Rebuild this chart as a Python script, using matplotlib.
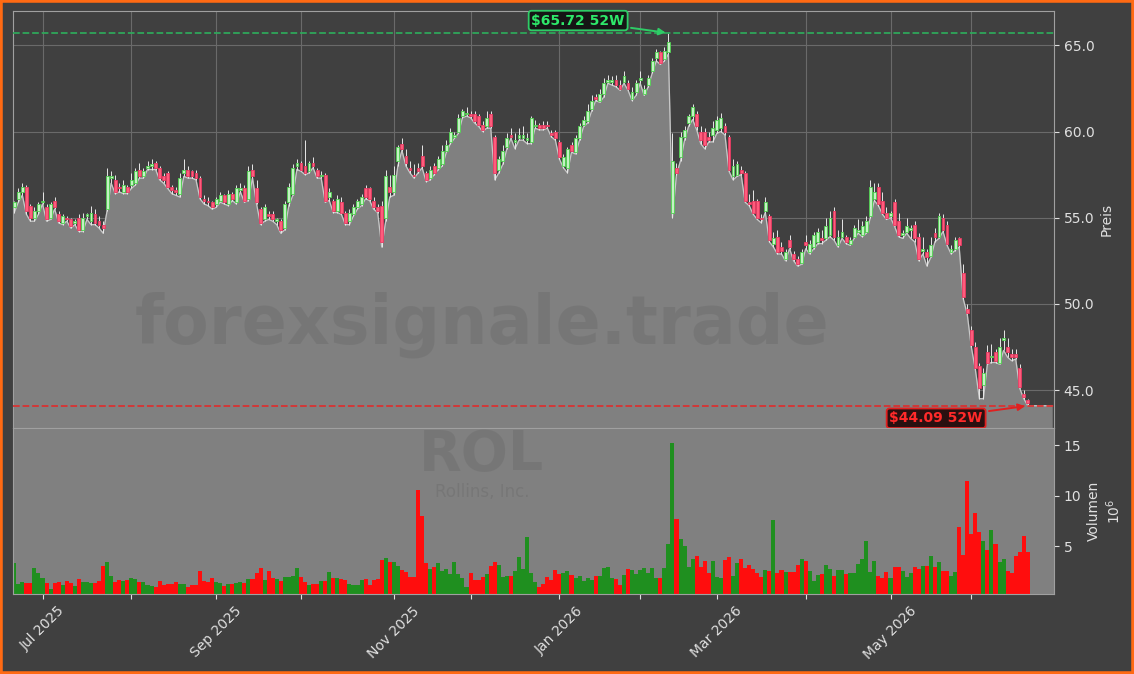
import numpy as np
import pandas as pd
import matplotlib.pyplot as plt
from matplotlib.patches import Rectangle

# daily candles, Rollins Inc. (ROL), values in USD
opens = [
    55.6, 56.1, 56.5, 56.8, 55.7, 55.0, 55.4, 55.9, 55.6, 55.0,
    56.0, 55.2, 54.7, 55.0, 54.9, 54.7, 55.0, 54.3, 55.1, 54.8,
    55.2, 54.8, 54.6, 55.5, 57.3, 57.2, 56.8, 56.5, 56.8, 56.9,
    57.0, 57.8, 57.4, 57.9, 58.0, 58.2, 57.9, 57.4, 57.6, 56.8,
    56.6, 56.4, 57.6, 57.8, 57.7, 57.6, 57.3, 56.1, 56.0, 55.9,
    55.8, 56.0, 56.3, 55.8, 56.4, 55.9, 56.6, 56.7, 56.1, 57.8,
    56.7, 55.5, 54.9, 55.2, 55.2, 54.8, 54.8, 54.4, 55.9, 56.4,
    58.0, 58.2, 58.0, 57.7, 58.2, 57.8, 57.4, 57.5, 56.2, 56.0,
    55.4, 55.9, 55.3, 54.8, 55.2, 55.6, 55.8, 56.7, 56.7, 56.0,
    55.6, 55.7, 55.0, 56.8, 56.5, 58.3, 59.3, 58.6, 57.9, 57.5,
    57.9, 58.6, 57.6, 57.3, 58.0, 57.9, 58.1, 58.9, 59.4, 59.7,
    60.0, 60.9, 61.0, 61.0, 61.0, 60.9, 60.4, 60.3, 61.0, 59.7,
    57.8, 58.3, 59.1, 59.8, 59.4, 59.6, 59.6, 59.5, 59.4, 60.3,
    60.4, 60.4, 60.4, 59.9, 60.0, 59.4, 58.0, 57.9, 59.2, 58.8,
    59.6, 60.4, 60.6, 61.3, 62.0, 61.8, 62.2, 62.9, 62.9, 63.0,
    62.7, 62.9, 62.8, 61.9, 62.3, 63.0, 62.2, 62.7, 63.5, 64.3,
    64.6, 64.2, 64.6, 55.3, 57.9, 58.5, 59.7, 60.5, 60.9, 61.0,
    60.0, 60.0, 59.7, 59.8, 60.1, 60.2, 60.3, 59.7, 57.4, 57.5,
    57.8, 57.6, 55.9, 56.0, 56.0, 55.0, 55.4, 55.1, 53.5, 53.9,
    53.3, 52.6, 53.7, 52.9, 52.6, 52.4, 53.6, 53.0, 53.3, 53.6,
    53.8, 53.8, 54.0, 55.4, 53.4, 53.9, 53.9, 53.5, 53.9, 54.2,
    54.0, 54.2, 55.1, 56.1, 56.8, 56.0, 55.3, 55.1, 55.9, 54.8,
    54.0, 54.2, 54.3, 54.6, 53.9, 53.1, 53.0, 52.8, 54.1, 53.9,
    55.0, 54.6, 53.0, 53.2, 53.8, 51.8, 49.7, 48.5, 47.5, 46.4,
    45.3, 47.2, 46.9, 47.2, 46.6, 47.9, 47.5, 47.1, 47.1, 46.3,
    44.8, 44.4,
]
highs = [
    56.0, 56.7, 57.0, 56.9, 55.8, 55.6, 55.9, 56.5, 55.8, 55.9,
    56.2, 55.4, 55.2, 55.1, 55.0, 54.9, 55.2, 55.3, 55.3, 55.7,
    55.5, 55.1, 54.8, 57.9, 57.7, 57.5, 57.0, 57.2, 56.9, 57.6,
    57.9, 58.2, 57.9, 58.3, 58.4, 58.3, 58.0, 57.6, 57.7, 56.9,
    56.8, 57.6, 58.4, 58.0, 57.8, 57.8, 57.4, 56.3, 56.2, 56.0,
    56.2, 56.5, 56.4, 56.6, 56.5, 56.9, 57.0, 56.9, 58.0, 58.1,
    57.2, 55.6, 55.8, 55.4, 55.4, 55.0, 54.9, 56.0, 57.0, 58.1,
    58.4, 58.3, 59.5, 58.3, 58.5, 57.9, 57.7, 57.6, 56.7, 56.1,
    56.3, 56.2, 55.4, 55.5, 55.8, 56.1, 56.4, 56.9, 56.8, 56.2,
    55.8, 56.0, 57.8, 57.5, 58.0, 59.2, 59.6, 59.0, 58.3, 58.1,
    58.2, 59.2, 57.7, 58.0, 58.2, 58.6, 59.2, 59.5, 60.2, 60.0,
    61.0, 61.3, 61.4, 61.2, 61.2, 61.0, 60.6, 61.2, 61.2, 59.8,
    58.6, 59.2, 59.9, 60.2, 59.9, 60.2, 60.3, 59.9, 60.9, 60.7,
    60.5, 60.6, 60.6, 60.1, 60.1, 59.5, 58.7, 59.1, 59.4, 59.8,
    60.5, 60.9, 61.6, 62.1, 62.2, 62.5, 63.1, 63.3, 63.2, 63.3,
    63.0, 63.5, 63.0, 62.6, 63.0, 63.5, 62.7, 63.3, 64.3, 64.8,
    64.7, 64.9, 65.72, 59.9, 58.2, 60.0, 60.3, 61.0, 61.6, 61.2,
    60.3, 60.2, 60.0, 60.6, 60.9, 61.1, 60.5, 59.8, 58.4, 58.3,
    58.0, 57.7, 56.4, 56.6, 56.1, 55.2, 56.2, 55.2, 54.2, 54.3,
    53.6, 53.2, 54.0, 53.1, 52.8, 53.2, 54.0, 53.7, 54.2, 54.4,
    54.3, 55.0, 55.4, 55.6, 54.3, 54.9, 54.0, 53.9, 54.6, 54.9,
    54.8, 55.1, 57.2, 57.0, 57.0, 56.5, 55.6, 55.4, 56.1, 55.3,
    54.3, 55.0, 54.6, 54.8, 54.1, 53.9, 53.2, 53.9, 54.4, 55.3,
    55.2, 54.8, 53.4, 53.9, 53.9, 52.3, 50.0, 48.7, 47.8, 46.6,
    46.3, 47.6, 47.7, 47.4, 48.0, 48.5, 48.0, 47.4, 47.4, 46.5,
    45.0, 44.5,
]
lows = [
    55.3, 55.9, 56.3, 55.2, 54.8, 54.8, 55.2, 55.8, 54.8, 54.9,
    55.5, 54.7, 54.6, 54.8, 54.4, 54.6, 54.2, 54.2, 54.9, 54.6,
    54.6, 54.4, 54.1, 55.4, 57.0, 56.4, 56.5, 56.4, 56.4, 56.7,
    56.9, 57.3, 57.3, 57.8, 57.8, 57.8, 57.2, 57.0, 56.7, 56.4,
    56.3, 56.2, 57.4, 57.3, 57.3, 57.2, 56.1, 55.8, 55.7, 55.5,
    55.6, 55.9, 55.8, 55.7, 56.0, 55.8, 56.5, 55.9, 56.0, 57.3,
    55.8, 54.6, 54.8, 54.9, 54.8, 54.6, 54.1, 54.3, 55.7, 56.3,
    57.8, 57.7, 57.5, 57.6, 57.9, 57.3, 57.3, 55.9, 56.0, 55.3,
    55.3, 55.2, 54.6, 54.6, 55.1, 55.5, 55.7, 56.1, 56.0, 55.5,
    55.3, 53.3, 54.8, 56.2, 56.3, 58.0, 58.9, 58.0, 57.6, 57.3,
    57.6, 57.9, 57.1, 57.2, 57.5, 57.8, 58.0, 58.8, 59.3, 59.6,
    59.9, 60.8, 60.9, 60.8, 60.5, 60.3, 60.0, 60.2, 60.2, 57.2,
    57.6, 58.1, 59.0, 59.6, 59.0, 59.5, 59.5, 59.3, 59.3, 60.2,
    60.1, 60.1, 60.2, 59.7, 59.5, 58.4, 57.9, 57.6, 58.8, 58.7,
    59.5, 60.3, 60.5, 61.2, 61.8, 61.7, 62.0, 62.8, 62.7, 62.6,
    62.4, 62.8, 62.4, 61.8, 62.1, 62.8, 62.1, 62.6, 63.4, 64.1,
    63.9, 64.1, 64.5, 55.0, 57.5, 58.3, 59.5, 60.3, 60.7, 60.1,
    59.3, 59.0, 59.4, 59.4, 59.9, 60.0, 59.8, 57.7, 57.2, 57.4,
    57.5, 55.9, 55.7, 55.2, 54.9, 54.7, 55.3, 53.6, 53.3, 52.9,
    52.9, 52.5, 53.2, 52.5, 52.2, 52.3, 53.2, 52.9, 53.2, 53.5,
    53.5, 53.7, 53.9, 53.7, 53.3, 53.8, 53.5, 53.4, 53.8, 54.1,
    53.9, 54.1, 55.0, 56.0, 55.7, 55.2, 54.9, 55.0, 54.5, 53.9,
    53.8, 54.1, 53.8, 53.6, 52.5, 52.9, 52.2, 52.7, 53.6, 53.8,
    54.2, 53.4, 52.9, 53.1, 53.3, 50.3, 49.4, 47.5, 46.2, 44.5,
    44.5, 46.5, 46.6, 46.6, 46.5, 47.3, 46.9, 46.7, 46.8, 45.1,
    44.5, 44.09,
]
closes = [
    55.9, 56.5, 56.8, 55.4, 55.0, 55.4, 55.8, 56.0, 54.9, 55.8,
    55.6, 54.8, 55.1, 54.9, 54.5, 54.8, 54.3, 55.0, 55.2, 55.3,
    54.7, 54.6, 54.4, 57.4, 57.4, 56.5, 56.7, 56.9, 56.5, 57.2,
    57.7, 57.4, 57.7, 58.0, 58.1, 57.9, 57.3, 57.2, 56.8, 56.6,
    56.5, 57.3, 57.8, 57.4, 57.4, 57.3, 56.2, 56.0, 55.9, 55.6,
    56.1, 56.3, 55.9, 56.4, 56.1, 56.7, 56.7, 56.0, 57.7, 57.4,
    55.9, 54.7, 55.6, 55.1, 54.9, 54.9, 54.3, 55.8, 56.8, 57.9,
    58.2, 57.8, 57.6, 58.2, 58.0, 57.4, 57.5, 56.0, 56.5, 55.4,
    56.1, 55.3, 54.7, 55.3, 55.6, 56.0, 56.2, 56.2, 56.1, 55.6,
    55.4, 53.6, 57.4, 56.5, 57.5, 59.1, 59.0, 58.2, 57.8, 57.4,
    57.7, 58.0, 57.2, 57.8, 57.6, 58.4, 58.9, 59.2, 60.0, 59.8,
    60.8, 61.2, 61.1, 60.9, 60.6, 60.4, 60.1, 60.8, 60.3, 57.6,
    58.4, 58.9, 59.6, 59.7, 59.5, 59.8, 59.8, 59.6, 60.8, 60.4,
    60.2, 60.2, 60.3, 59.8, 59.6, 58.5, 58.5, 59.0, 58.9, 59.6,
    60.3, 60.7, 61.2, 61.8, 61.9, 62.2, 62.8, 63.0, 63.0, 62.7,
    62.5, 63.2, 62.5, 62.3, 62.8, 63.1, 62.5, 63.1, 64.1, 64.6,
    64.0, 64.7, 65.2, 58.3, 57.6, 59.7, 60.1, 60.9, 61.4, 60.3,
    59.5, 59.2, 59.5, 60.2, 60.7, 60.8, 60.0, 57.8, 58.0, 58.1,
    57.6, 56.0, 55.8, 55.3, 55.0, 54.9, 55.9, 53.7, 53.8, 53.0,
    53.1, 53.0, 53.3, 52.6, 52.3, 53.0, 53.4, 53.5, 54.0, 54.2,
    53.7, 54.5, 55.0, 53.9, 53.9, 54.2, 53.6, 53.7, 54.4, 54.3,
    54.5, 54.8, 56.8, 56.5, 55.8, 55.3, 55.0, 55.3, 54.6, 54.0,
    54.1, 54.5, 54.4, 53.8, 52.6, 53.2, 52.7, 53.4, 53.9, 55.1,
    54.3, 53.5, 53.2, 53.7, 53.4, 50.4, 49.5, 47.6, 46.3, 45.1,
    46.0, 46.6, 47.0, 46.7, 47.5, 48.0, 47.2, 46.9, 46.9, 45.2,
    44.6, 44.25,
]
# volume in millions of shares
volumes = [
    3.4, 1.3, 1.5, 1.4, 1.4, 2.9, 2.4, 1.9, 1.4, 0.75,
    1.4, 1.5, 1.2, 1.6, 1.4, 1.1, 1.8, 1.5, 1.5, 1.4,
    1.4, 1.6, 3.1, 3.5, 2.1, 1.5, 1.7, 1.6, 1.7, 1.9,
    1.8, 1.5, 1.5, 1.2, 1.1, 1.0, 1.6, 1.2, 1.3, 1.3,
    1.5, 1.3, 1.3, 1.0, 1.2, 1.2, 2.6, 1.6, 1.5, 1.9,
    1.5, 1.4, 1.1, 1.3, 1.3, 1.4, 1.5, 1.4, 1.8, 1.8,
    2.4, 2.9, 1.7, 2.6, 1.9, 1.8, 1.6, 2.0, 2.0, 2.1,
    2.9, 2.0, 1.5, 1.2, 1.3, 1.3, 1.6, 1.6, 2.5, 1.9,
    1.9, 1.8, 1.7, 1.3, 1.2, 1.2, 1.7, 1.8, 1.2, 1.7,
    1.8, 3.7, 3.9, 3.5, 3.5, 3.1, 2.7, 2.5, 2.0, 2.0,
    10.6, 8.0, 3.4, 2.8, 3.0, 3.4, 2.6, 2.8, 2.3, 3.5,
    2.3, 1.9, 1.0, 2.4, 1.7, 1.7, 2.0, 2.3, 3.1, 3.5,
    3.2, 2.0, 2.1, 2.1, 2.6, 4.0, 2.8, 5.9, 2.4, 1.5,
    1.0, 1.3, 2.0, 1.7, 2.7, 2.3, 2.4, 2.6, 2.2, 1.9,
    2.1, 1.6, 1.9, 1.7, 2.1, 2.1, 2.9, 3.0, 1.9, 1.8,
    1.2, 2.2, 2.8, 2.7, 2.3, 2.7, 2.9, 2.4, 2.9, 1.9,
    1.9, 2.9, 5.2, 15.2, 7.7, 5.7, 5.0, 3.0, 3.8, 4.1,
    3.0, 3.6, 2.4, 3.6, 2.0, 1.9, 3.7, 4.0, 2.1, 3.4,
    3.8, 2.9, 3.2, 2.8, 2.4, 2.0, 2.7, 2.6, 7.6, 2.4,
    2.7, 2.5, 2.5, 2.5, 3.2, 3.8, 3.6, 2.6, 1.6, 2.2,
    2.3, 3.2, 2.8, 2.1, 2.7, 2.7, 2.3, 2.4, 2.4, 3.3,
    3.8, 5.5, 2.5, 3.6, 2.1, 1.9, 2.5, 1.9, 3.0, 3.0,
    2.6, 2.0, 2.4, 3.0, 2.8, 3.1, 3.1, 4.1, 3.0, 3.5,
    2.6, 2.6, 2.1, 2.5, 6.9, 4.2, 11.5, 6.2, 8.3, 6.4,
    5.5, 4.7, 6.6, 5.2, 3.5, 3.8, 2.6, 2.4, 4.1, 4.5,
    6.0, 4.5,
]
holidays = ['2025-07-04', '2025-09-01', '2025-11-27', '2025-12-25', '2026-01-01',
            '2026-01-19', '2026-02-16', '2026-04-03', '2026-05-25', '2026-06-19']
high_52w = 65.72
low_52w = 44.09

o = np.array(opens)
h = np.array(highs)
l = np.array(lows)
c = np.array(closes)
v = np.array(volumes)
n = len(c)
x = np.arange(n)

dates = pd.bdate_range('2025-06-20', '2026-06-22')
dates = dates[~dates.isin(pd.to_datetime(holidays))][:n]

bg = '#404040'
txt = '#e0e0e0'
up = c >= o

fig = plt.figure(figsize=(11.34, 6.74), dpi=100, facecolor=bg)
ax = fig.add_axes([0.0115, 0.365, 0.918, 0.6187])
axv = fig.add_axes([0.0115, 0.1187, 0.918, 0.2463], sharex=ax)

# price panel
ax.set_facecolor(bg)
ax.set_axisbelow(True)
ax.grid(True, color='#6a6a6a', lw=0.8)
xf = np.append(x, n + 5)
yf = np.append(l, l[-1])
ax.fill_between(xf, yf, 0, color='#808080', zorder=1)
ax.plot(xf, yf, color='#c8c8c8', lw=0.9, zorder=2)
ax.vlines(x, l, h, color='#e8e8e8', lw=0.7, zorder=3)
body = np.where(np.abs(c - o) < 0.06, 0.06, c - o)
ax.bar(x, body, bottom=o, width=0.7, zorder=4, lw=0.6,
       color=np.where(up, '#c4f2c4', '#ff5c7c'),
       edgecolor=np.where(up, '#4fd24f', '#e83a62'))

ax.axhline(high_52w, color='#2fa65a', ls='--', lw=1.3, zorder=5)
ax.axhline(low_52w, color='#d83232', ls='--', lw=1.3, zorder=5)
ax.annotate('\\$65.72 52W', xy=(int(np.argmax(h)), high_52w), xytext=(-65, 9),
            textcoords='offset points', ha='center', va='center',
            color='#2ee86a', fontsize=10, fontweight='bold', zorder=6,
            bbox=dict(boxstyle='round,pad=0.2', fc='#151515', ec='#2ecc66', lw=1.3),
            arrowprops=dict(arrowstyle='-|>', color='#2ecc66', lw=1.4))
ax.annotate('\\$44.09 52W', xy=(n - 1, low_52w), xytext=(-66, -9),
            textcoords='offset points', ha='center', va='center',
            color='#ff2a2a', fontsize=10, fontweight='bold', zorder=6,
            bbox=dict(boxstyle='round,pad=0.2', fc='#2a1010', ec='#e02020', lw=1.3),
            arrowprops=dict(arrowstyle='-|>', color='#e02020', lw=1.4))

ax.set_ylim(42.8, 67.0)
ax.set_xlim(-0.3, n + 5.5)
ax.set_yticks([45, 50, 55, 60, 65])
ax.set_yticklabels(['%.1f' % t for t in [45, 50, 55, 60, 65]])
ax.yaxis.tick_right()
ax.yaxis.set_label_position('right')
ax.set_ylabel('Preis', color=txt, fontsize=10)
ax.tick_params(axis='y', colors=txt, labelsize=10)
ax.tick_params(axis='x', length=0, labelbottom=False)

# volume panel
axv.set_facecolor('#808080')
axv.bar(x, v, width=1.0, color=np.where(up, '#1f8f1f', '#ff0d0d'), zorder=2)
axv.set_ylim(0.3, v.max() * 1.1)
axv.set_yticks([5, 10, 15])
axv.yaxis.tick_right()
axv.yaxis.set_label_position('right')
axv.set_ylabel('Volumen\n$10^6$', color=txt, fontsize=10)
axv.tick_params(axis='y', colors=txt, labelsize=10)

months = pd.Series(dates.month)
starts = np.where(months.values != months.shift().values)[0][1:]
axv.set_xticks(starts)
axv.set_xticklabels([dates[i].strftime('%b %Y') if dates[i].month % 2 == 1 else ''
                     for i in starts], rotation=45)
axv.tick_params(axis='x', colors=txt, labelsize=10)

for a in (ax, axv):
    for s in a.spines.values():
        s.set_color('#a0a0a0')

# watermarks
fig.text(0.425, 0.518, 'forexsignale.trade', fontsize=48, fontweight='bold',
         color='#404040', alpha=0.14, ha='center', va='center')
fig.text(0.425, 0.325, 'ROL', fontsize=40, fontweight='bold',
         color='#404040', alpha=0.14, ha='center', va='center')
fig.text(0.425, 0.27, 'Rollins, Inc.', fontsize=12,
         color='#404040', alpha=0.14, ha='center', va='center')

fig.add_artist(Rectangle((0, 0), 1, 1, transform=fig.transFigure, fill=False,
                         edgecolor='#ff6a13', lw=4))

fig.savefig('out.png', dpi=100, facecolor=bg)
